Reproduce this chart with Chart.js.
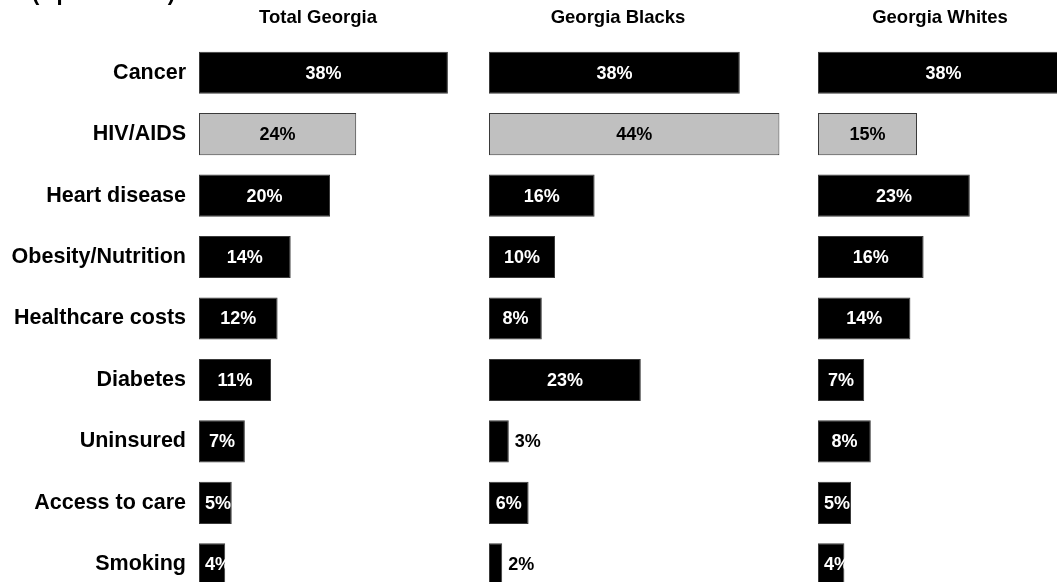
<!DOCTYPE html>
<html>
<head>
<meta charset="utf-8">
<script src="https://cdn.jsdelivr.net/npm/chart.js@4.4.1/dist/chart.umd.min.js"></script>
<style>
  html, body { margin: 0; padding: 0; width: 1057px; height: 582px; overflow: hidden; background: #fff; }
  canvas { position: absolute; top: 0; }
</style>
</head>
<body>
<canvas id="c1" width="461" height="600" style="left:0px"></canvas>
<canvas id="c2" width="330" height="600" style="left:489px"></canvas>
<canvas id="c3" width="264" height="600" style="left:818px"></canvas>
<script>
// ---- data ----
const categories = ['Cancer', 'HIV/AIDS', 'Heart disease', 'Obesity/Nutrition', 'Healthcare costs', 'Diabetes', 'Uninsured', 'Access to care', 'Smoking'];
const totalGeorgia = [38, 24, 20, 14, 12, 11, 7, 5, 4];
const georgiaBlacks = [38, 44, 16, 10, 8, 23, 3, 6, 2];
const georgiaWhites = [38, 15, 23, 16, 14, 7, 8, 5, 4];
const panelTitles = ['Total Georgia', 'Georgia Blacks', 'Georgia Whites'];
const subtitle = '(Open-ended)';

const FONT = "'Liberation Sans', Arial, Helvetica, sans-serif";

const barLabels = {
  id: 'barLabels',
  afterDatasetsDraw(chart) {
    const ctx = chart.ctx;
    const meta = chart.getDatasetMeta(0);
    const data = chart.data.datasets[0].data;
    ctx.save();
    ctx.font = 'bold 18px ' + FONT;
    ctx.textBaseline = 'middle';
    meta.data.forEach((bar, i) => {
      const v = data[i];
      const txt = v + '%';
      const tw = ctx.measureText(txt).width;
      const w = bar.x - bar.base;
      const y = bar.y + 1;
      if (w < 24) {
        ctx.fillStyle = '#000';
        ctx.textAlign = 'left';
        ctx.fillText(txt, bar.x + 6, y);
      } else {
        const grey = categories[i] === 'HIV/AIDS';
        ctx.fillStyle = grey ? '#000' : '#fff';
        ctx.textAlign = 'center';
        const cx = Math.max((bar.x + bar.base) / 2, bar.base + tw / 2 + 6);
        ctx.fillText(txt, cx, y);
      }
    });
    ctx.restore();
  }
};

const panelTitle = {
  id: 'panelTitle',
  afterDraw(chart, args, opts) {
    const ctx = chart.ctx;
    ctx.save();
    ctx.font = 'bold 18.5px ' + FONT;
    ctx.fillStyle = '#000';
    ctx.textAlign = 'center';
    ctx.textBaseline = 'middle';
    ctx.fillText(opts.text, opts.x, 18);
    if (opts.sub) {
      ctx.font = 'bold 22px ' + FONT;
      ctx.textAlign = 'left';
      ctx.textBaseline = 'alphabetic';
      ctx.fillText(opts.sub, 32, 0);
    }
    ctx.restore();
  }
};

function makeChart(id, values, title, titleX, showLabels, xMax, sub) {
  return new Chart(document.getElementById(id), {
    type: 'bar',
    data: {
      labels: categories,
      datasets: [{
        data: values,
        backgroundColor: categories.map(c => c === 'HIV/AIDS' ? '#c0c0c0' : '#000000'),
        borderColor: '#3a3a3a',
        borderWidth: 1,
        borderSkipped: false,
        barPercentage: 0.685,
        categoryPercentage: 1.0
      }]
    },
    options: {
      indexAxis: 'y',
      responsive: false,
      animation: false,
      devicePixelRatio: 1,
      layout: { padding: { top: 42, bottom: 5, left: 0, right: 0 } },
      plugins: {
        legend: { display: false },
        tooltip: { enabled: false },
        panelTitle: { text: title, x: titleX, sub: sub }
      },
      scales: {
        x: { display: false, min: 0, max: xMax },
        y: {
          display: showLabels,
          grid: { display: false, drawTicks: false },
          border: { display: false },
          ticks: {
            color: '#000',
            padding: 13,
            font: { family: FONT, size: 21.5, weight: 'bold' }
          },
          afterFit(scale) {
            if (showLabels) {
              scale.width = 199;
              scale.paddingTop = 0;
              scale.paddingBottom = 0;
              scale.paddingLeft = 0;
              scale.paddingRight = 0;
            }
          }
        }
      }
    },
    plugins: [barLabels, panelTitle]
  });
}

makeChart('c1', totalGeorgia, panelTitles[0], 318, true, 40, subtitle);
makeChart('c2', georgiaBlacks, panelTitles[1], 129, false, 50, null);
makeChart('c3', georgiaWhites, panelTitles[2], 122, false, 40, null);
</script>
</body>
</html>
